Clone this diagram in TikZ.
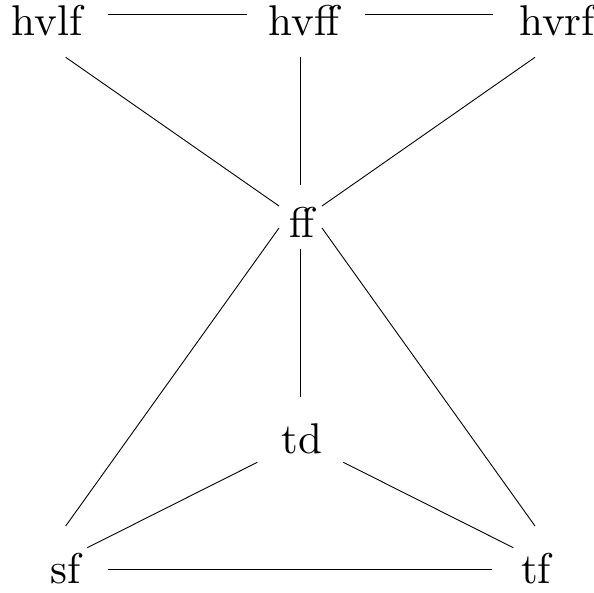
\documentclass[tikz,border=0pt]{standalone}
\font\lblfont="[lmroman10-regular]:mapping=tex-text" at 43pt
\begin{document}
\begin{tikzpicture}[x=1pt,y=-1pt,
  lbl/.style={anchor=base,inner sep=0pt,font=\lblfont},
  conn/.style={line width=0.9pt}]
\useasboundingbox (0,0) rectangle (594,592);
\node[lbl] (hvlf) at (47,35) {hvlf};
\node[lbl] (hvff) at (304,35) {hvff};
\node[lbl] (hvrf) at (557,35) {hvrf};
\node[lbl] (ff) at (302,237) {ff};
\node[lbl] (td) at (302,453.3) {td};
\node[lbl] (sf) at (66,583) {sf};
\node[lbl] (tf) at (536,583) {tf};
\draw[conn] ([shift={(61.3,-20.7)}]hvlf.base) -- ([shift={(-57.3,-20.7)}]hvff.base);
\draw[conn] ([shift={(61,-20.7)}]hvff.base) -- ([shift={(-64.3,-20.7)}]hvrf.base);
\draw[conn] ([shift={(18.7,22.3)}]hvlf.base) -- ([shift={(-23,-31)}]ff.base);
\draw[conn] ([shift={(-4,22.3)}]hvff.base) -- ([shift={(-2,-52)}]ff.base);
\draw[conn] ([shift={(-22,22.3)}]hvrf.base) -- ([shift={(20,-31)}]ff.base);
\draw[conn] ([shift={(-23,-9)}]ff.base) -- ([shift={(-0.3,-57)}]sf.base);
\draw[conn] ([shift={(-2,12)}]ff.base) -- ([shift={(-2,-56.3)}]td.base);
\draw[conn] ([shift={(20,-9)}]ff.base) -- ([shift={(-1,-57)}]tf.base);
\draw[conn] ([shift={(-44.7,9)}]td.base) -- ([shift={(21.3,-35.3)}]sf.base);
\draw[conn] ([shift={(41.3,9)}]td.base) -- ([shift={(-22.7,-35.3)}]tf.base);
\draw[conn] ([shift={(42.3,-13.7)}]sf.base) -- ([shift={(-43.7,-13.7)}]tf.base);
\end{tikzpicture}
\end{document}
